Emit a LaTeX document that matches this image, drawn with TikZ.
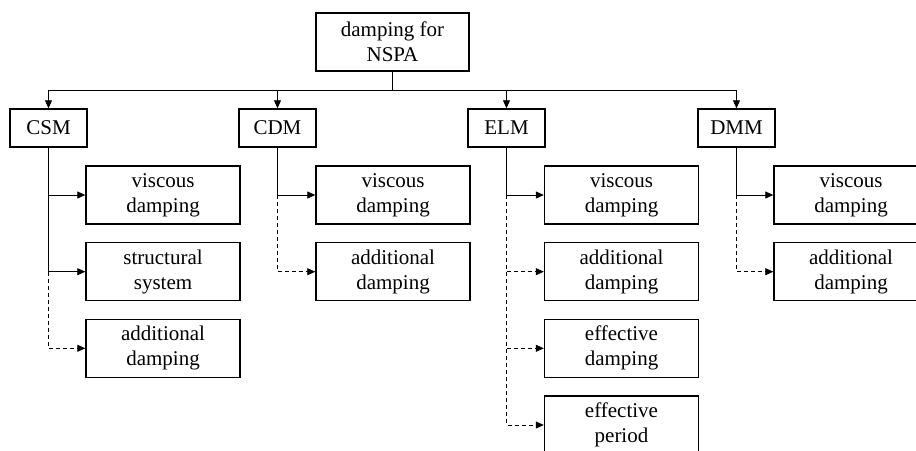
\documentclass[tikz,border=0pt]{standalone}
\usepackage{fontspec}
\setmainfont{Liberation Serif}
\usepackage{tikz}
\usetikzlibrary{positioning, arrows.meta}

\tikzset{
  boxtext/.style={font=\fontsize{21pt}{25pt}\selectfont, align=center, inner sep=0pt},
  topbox/.style={draw, line width=1.4pt, boxtext, minimum width=153pt, minimum height=58pt},
  methodbox/.style={draw, line width=1.4pt, boxtext, minimum width=77pt, minimum height=38pt},
  itembox/.style={draw, line width=1.4pt, boxtext, minimum width=154pt, minimum height=58pt},
  link/.style={line width=0.8pt, -{Triangle[length=8pt,width=7pt]}},
  optlink/.style={link, dash pattern=on 4pt off 3pt},
}

\begin{document}
\begin{tikzpicture}[x=1pt, y=-1pt]
  \useasboundingbox (0,0) rectangle (916,450);
  \clip (0,0) rectangle (916,450);

  % root and methods
  \node[topbox] (root) at (392.5,42) {damping for\\NSPA};
  \node[methodbox] (csm) at (48.5,128) {CSM};
  \node[methodbox] (cdm) at (277.5,128) {CDM};
  \node[methodbox] (elm) at (506.5,128) {ELM};
  \node[methodbox] (dmm) at (736.5,128) {DMM};

  % items
  \node[itembox] (csm-vis) at (163,195) {viscous\\damping};
  \node[itembox] (csm-str) at (163,271.7) {structural\\system};
  \node[itembox] (csm-add) at (163,348.3) {additional\\damping};
  \node[itembox] (cdm-vis) at (393,195) {viscous\\damping};
  \node[itembox] (cdm-add) at (393,271.7) {additional\\damping};
  \node[itembox] (elm-vis) at (621.5,195) {viscous\\damping};
  \node[itembox] (elm-add) at (621.5,271.7) {additional\\damping};
  \node[itembox] (elm-effd) at (621.5,348.3) {effective\\damping};
  \node[itembox] (elm-efft) at (621.5,425) {effective\\period};
  \node[itembox] (dmm-vis) at (851,195) {viscous\\damping};
  \node[itembox] (dmm-add) at (851,271.7) {additional\\damping};

  % bus from root
  \coordinate (bus) at (392.5,90);
  \draw[line width=0.8pt] (root.south) -- (bus);
  \foreach \m in {csm,cdm,elm,dmm}
    \draw[link] (bus) -| (\m.north);

  % CSM
  \draw[link] (csm.south) |- (csm-vis.west);
  \draw[link] (csm.south) |- (csm-str.west);
  \draw[optlink] (csm.south |- csm-str.west) |- (csm-add.west);

  % CDM
  \draw[link] (cdm.south) |- (cdm-vis.west);
  \draw[optlink] (cdm.south |- cdm-vis.west) |- (cdm-add.west);

  % ELM
  \draw[link] (elm.south) |- (elm-vis.west);
  \foreach \t in {elm-add,elm-effd,elm-efft}
    \draw[optlink] (elm.south |- elm-vis.west) |- (\t.west);

  % DMM
  \draw[link] (dmm.south) |- (dmm-vis.west);
  \draw[optlink] (dmm.south |- dmm-vis.west) |- (dmm-add.west);
\end{tikzpicture}
\end{document}
